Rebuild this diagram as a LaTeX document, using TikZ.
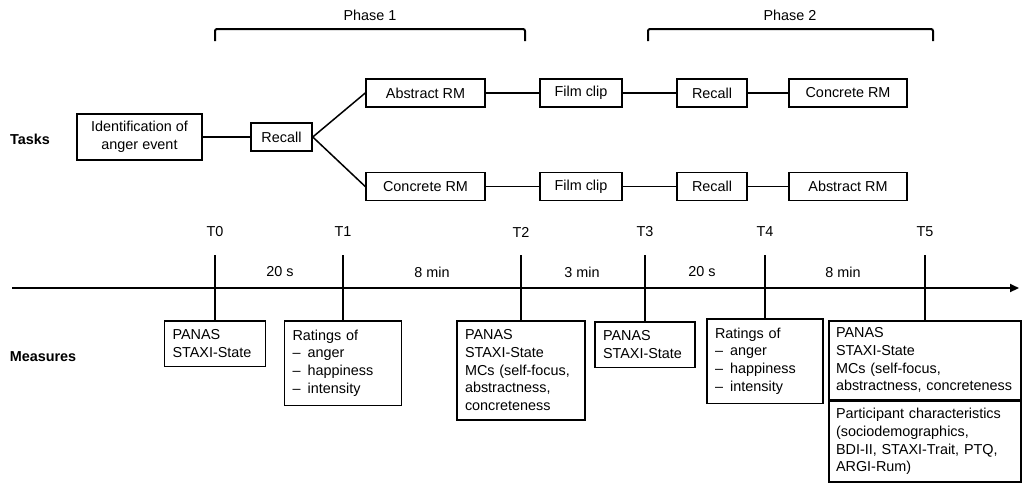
\documentclass[tikz,border=0pt]{standalone}
\usepackage{fontspec}
\setmainfont{Liberation Sans}
\usetikzlibrary{arrows.meta}

\begin{document}
\begin{tikzpicture}[x=1pt, y=-1pt, font=\fontsize{14.4}{17.7}\selectfont,
	taskbox/.style = {draw, line width=1.5pt, minimum height=28pt, inner sep=0pt},
	measbox/.style = {draw, line width=1.5pt, anchor=north, align=left, inner xsep=8pt, inner ysep=9pt},
	link/.style = {line width=1.5pt}]
	\useasboundingbox (0,0) rectangle (1024,483);
	% phases
	\draw [line width=2pt, rounded corners=2pt] (215,41) -- (215,29) -- (525,29) -- (525,41);
	\draw [line width=2pt, rounded corners=2pt] (648,41) -- (648,29) -- (933,29) -- (933,41);
	\node (phase1) at (370,15) {Phase 1};
	\node (phase2) at (790,15) {Phase 2};
	% tasks
	\node (tasks) at (30,139) {\bfseries Tasks};
	\node [taskbox, minimum width=125pt, minimum height=46pt, align=center] (ident) at (139.5,137) {Identification of\\anger event};
	\node [taskbox, minimum width=61pt] (recall0) at (281.5,137) {Recall};
	\node [taskbox, minimum width=119pt] (absrm1) at (425.5,93) {Abstract RM};
	\node [taskbox, minimum width=119pt] (conrm1) at (425.5,186.5) {Concrete RM};
	\node [taskbox, minimum width=82pt] (film1) at (581,93) {Film clip};
	\node [taskbox, minimum width=82pt] (film2) at (581,186.5) {Film clip};
	\node [taskbox, minimum width=70pt] (recall1) at (712,93) {Recall};
	\node [taskbox, minimum width=70pt] (recall2) at (712,186.5) {Recall};
	\node [taskbox, minimum width=118pt] (conrm2) at (848,93) {Concrete RM};
	\node [taskbox, minimum width=118pt] (absrm2) at (848,186.5) {Abstract RM};
	\draw [link] (ident) -- (recall0);
	\draw [link] (recall0.east) -- (absrm1.west);
	\draw [link] (recall0.east) -- (conrm1.west);
	\draw [link] (absrm1) -- (film1) -- (recall1) -- (conrm2);
	\draw [link] (conrm1) -- (film2) -- (recall2) -- (absrm2);
	% timeline
	\coordinate (start) at (12,288);
	\coordinate (end) at (1019,288);
	\draw [line width=2pt, -{Triangle[length=9pt, width=8pt]}] (start) -- (end);
	\foreach \i/\x in {0/215, 1/343, 2/521, 3/645, 4/765, 5/925} {
		\coordinate (tick\i) at (\x,255);
		\node (T\i) at (\x,232) {T\i};
	}
	\node (dur1) at (280,272) {20 s};
	\node (dur2) at (432,272) {8 min};
	\node (dur3) at (582,272) {3 min};
	\node (dur4) at (702,272) {20 s};
	\node (dur5) at (843,272) {8 min};
	% measures
	\node (measures) at (43,357) {\bfseries Measures};
	\node [measbox, text width=85pt] (m0) at (215,320) {PANAS\\STAXI-State};
	\node [measbox, text width=101pt] (m1) at (343,320) {Ratings of\\\textendash\hspace{0.5em}anger\\\textendash\hspace{0.5em}happiness\\\textendash\hspace{0.5em}intensity};
	\node [measbox, text width=112pt] (m2) at (521,320) {PANAS\\STAXI-State\\MCs (self-focus,\\abstractness,\\concreteness};
	\node [measbox, text width=84pt] (m3) at (645,321) {PANAS\\STAXI-State};
	\node [measbox, text width=100pt] (m4) at (765,318) {Ratings of\\\textendash\hspace{0.5em}anger\\\textendash\hspace{0.5em}happiness\\\textendash\hspace{0.5em}intensity};
	\node [measbox, text width=178pt, inner xsep=7pt, inner ysep=7pt] (m5) at (925,320) {PANAS\\STAXI-State\\MCs (self-focus,\\\mbox{abstractness, concreteness}};
	\node [measbox, text width=178pt, inner xsep=7pt, inner ysep=7pt] (m6) at (m5.south) {Participant characteristics\\(sociodemographics,\\BDI-II, STAXI-Trait, PTQ,\\ARGI-Rum)};
	\foreach \i in {0,...,5}
		\draw [line width=2.2pt] (tick\i) -- (m\i.north);
\end{tikzpicture}
\end{document}
